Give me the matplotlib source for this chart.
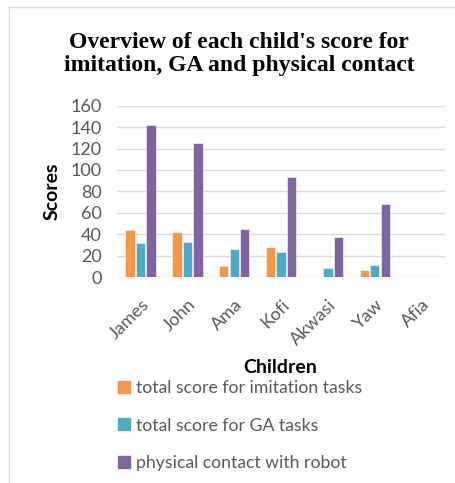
import numpy as np
import matplotlib.pyplot as plt
from matplotlib.lines import Line2D

children = ['James', 'John', 'Ama', 'Kofi', 'Akwasi', 'Yaw', 'Afia']
imitation = [44, 42, 10, 28, 0, 7, 0]
ga_tasks = [32, 33, 26, 23, 8, 11, 0]
contact = [142, 125, 45, 93, 37, 68, 0]

series_names = ['total score for imitation tasks', 'total score for GA tasks',
                'physical contact with robot']
colors = ['#F79646', '#4BACC6', '#8064A2']

fig = plt.figure(figsize=(4.56, 4.83), dpi=100)
ax = fig.add_axes([0.257, 0.4265, 0.719, 0.3545])

x = np.arange(len(children))
w = 0.2
step = 0.224
for i, vals in enumerate([imitation, ga_tasks, contact]):
    ax.bar(x + (i - 1) * step, vals, w, color=colors[i], edgecolor='white',
           linewidth=0.4, zorder=3, label=series_names[i])

ax.set_xlim(-0.5, len(children) - 0.5)
ax.set_ylim(0, 160)
ax.set_yticks(np.arange(0, 161, 20))
ax.grid(axis='y', color='#D9D9D9', linewidth=1, zorder=0)
for s in ax.spines.values():
    s.set_visible(False)
ax.tick_params(length=0, colors='#595959', labelsize=13)
ax.tick_params(axis='y', pad=11)
ax.tick_params(axis='x', pad=14)
ax.set_xticks(x)
ax.set_xticklabels(children, rotation=45, ha='right', rotation_mode='anchor',
                   family='Lato')
for lab in ax.get_yticklabels():
    lab.set_family('Lato')

ax.set_ylabel('Scores', fontsize=14, fontweight='bold', family='Lato', labelpad=7)
fig.text(0.614, 0.240, 'Children', fontsize=14, fontweight='bold', family='Lato',
         ha='center', va='center')

fig.text(0.524, 0.889, "Overview of each child's score for\nimitation, GA and physical contact",
         fontsize=17, fontweight='bold', family='Liberation Serif', ha='center',
         va='center', linespacing=1.12)

handles = [Line2D([], [], marker='s', linestyle='none', markersize=8,
                  markerfacecolor=c, markeredgecolor=c) for c in colors]
leg = fig.legend(handles, series_names, loc='upper left', bbox_to_anchor=(0.245, 0.227),
                 frameon=False, handlelength=0.6, handletextpad=0.35, labelspacing=1.2,
                 prop={'family': 'Lato', 'size': 12.7}, borderaxespad=0)
for t in leg.get_texts():
    t.set_color('#595959')

# light frame on top and left
fig.add_artist(Line2D([0.0197, 0.0197], [0, 0.9855], transform=fig.transFigure,
                      color='#D9D9D9', linewidth=1))
fig.add_artist(Line2D([0.0197, 1], [0.9855, 0.9855], transform=fig.transFigure,
                      color='#D9D9D9', linewidth=1))

fig.savefig('out.png', dpi=100)
